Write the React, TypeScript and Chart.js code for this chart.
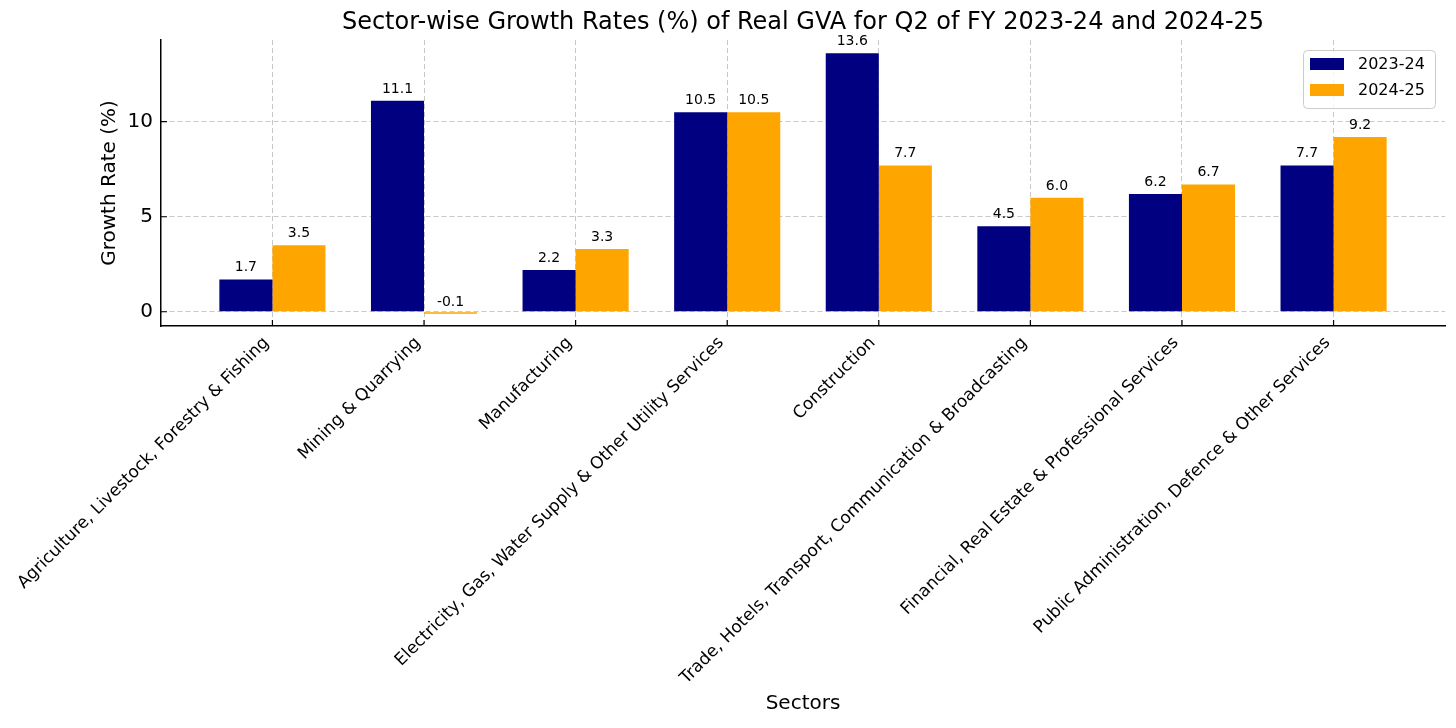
import React, { useEffect, useRef } from 'react';
import { Chart, registerables } from 'chart.js';

Chart.register(...registerables);

const categories = [
  'Agriculture, Livestock, Forestry & Fishing',
  'Mining & Quarrying',
  'Manufacturing',
  'Electricity, Gas, Water Supply & Other Utility Services',
  'Construction',
  'Trade, Hotels, Transport, Communication & Broadcasting',
  'Financial, Real Estate & Professional Services',
  'Public Administration, Defence & Other Services',
];
const series2023 = [1.7, 11.1, 2.2, 10.5, 13.6, 4.5, 6.2, 7.7];
const series2024 = [3.5, -0.1, 3.3, 10.5, 7.7, 6.0, 6.7, 9.2];
const seriesLabels = ['2023-24', '2024-25'];
const seriesColors = ['#000080', '#FFA500'];
const yTickValues = [0, 5, 10];
const titleText = 'Sector-wise Growth Rates (%) of Real GVA for Q2 of FY 2023-24 and 2024-25';
const xAxisTitle = 'Sectors';
const yAxisTitle = 'Growth Rate (%)';

const FONT = "'DejaVu Sans', sans-serif";

const barLabelPlugin = {
  id: 'barLabels',
  afterDatasetsDraw(chart: any) {
    const ctx = chart.ctx;
    const yScale = chart.scales.y;
    ctx.save();
    ctx.font = `14px ${FONT}`;
    ctx.fillStyle = '#000';
    ctx.textAlign = 'center';
    ctx.textBaseline = 'alphabetic';
    chart.data.datasets.forEach((ds: any, di: number) => {
      const meta = chart.getDatasetMeta(di);
      meta.data.forEach((el: any, i: number) => {
        const v = ds.data[i].y;
        const y = yScale.getPixelForValue(v) - 8;
        ctx.fillText(v.toFixed(1), el.x, y);
      });
    });
    ctx.restore();
  },
};

const innerTicksPlugin = {
  id: 'innerTicks',
  afterDraw(chart: any) {
    const ctx = chart.ctx;
    const { left, bottom } = chart.chartArea;
    ctx.save();
    ctx.strokeStyle = '#000';
    ctx.lineWidth = 1.2;
    ctx.beginPath();
    chart.scales.x.ticks.forEach((t: any) => {
      const px = chart.scales.x.getPixelForValue(t.value);
      ctx.moveTo(px, bottom);
      ctx.lineTo(px, bottom - 6);
    });
    chart.scales.y.ticks.forEach((t: any) => {
      const py = chart.scales.y.getPixelForValue(t.value);
      ctx.moveTo(left, py);
      ctx.lineTo(left + 6, py);
    });
    ctx.stroke();
    ctx.restore();
  },
};

const legendBoxPlugin = {
  id: 'legendBox',
  afterDraw(chart: any) {
    const ctx = chart.ctx;
    const { right, top } = chart.chartArea;
    const w = 132;
    const h = 58;
    const x0 = right - 10 - w;
    const y0 = top + 10;
    ctx.save();
    ctx.fillStyle = 'rgba(255,255,255,0.8)';
    ctx.strokeStyle = '#cccccc';
    ctx.lineWidth = 1;
    ctx.beginPath();
    ctx.roundRect(x0 + 0.5, y0 + 0.5, w, h, 4);
    ctx.fill();
    ctx.stroke();
    ctx.font = `16px ${FONT}`;
    ctx.textAlign = 'left';
    ctx.textBaseline = 'middle';
    chart.data.datasets.forEach((ds: any, i: number) => {
      const cy = y0 + 14 + i * 26;
      ctx.fillStyle = ds.backgroundColor;
      ctx.fillRect(x0 + 7, cy - 6, 34, 12);
      ctx.fillStyle = '#000';
      ctx.fillText(ds.label, x0 + 55, cy + 1);
    });
    ctx.restore();
  },
};

export default function App() {
  const canvasRef = useRef<HTMLCanvasElement | null>(null);

  useEffect(() => {
    if (!canvasRef.current) return;
    Chart.defaults.font.family = FONT;
    Chart.defaults.color = '#000';
    const seriesValues = [series2023, series2024];
    const chart = new Chart(canvasRef.current, {
      type: 'bar',
      data: {
        datasets: seriesValues.map((vals, si) => ({
          label: seriesLabels[si],
          data: vals.map((v, i) => ({ x: i, y: v })),
          backgroundColor: seriesColors[si],
          borderWidth: 0,
          categoryPercentage: 0.7,
          barPercentage: 1.0,
        })),
      },
      options: {
        responsive: false,
        animation: false,
        layout: { padding: { left: 88, right: 11, top: 0, bottom: 0 } },
        plugins: {
          legend: { display: false },
          tooltip: { enabled: false },
          title: {
            display: true,
            text: titleText,
            fullSize: false,
            color: '#000',
            font: { size: 24, weight: 'normal', family: FONT },
            padding: { top: 8, bottom: 3.2 },
          },
        },
        scales: {
          x: {
            type: 'linear',
            min: -0.735,
            max: 7.735,
            offset: false,
            afterBuildTicks: (scale: any) => {
              scale.ticks = categories.map((_, i) => ({ value: i }));
            },
            afterFit: (scale: any) => {
              scale.height = 402;
              scale.paddingLeft = 0;
              scale.paddingRight = 0;
            },
            grid: {
              offset: false,
              display: true,
              color: '#c8c8c8',
              lineWidth: 1,
              drawTicks: false,
            },
            border: { display: true, color: '#000', width: 1.5, dash: [5, 3] },
            ticks: {
              autoSkip: false,
              minRotation: 45,
              maxRotation: 45,
              padding: 7,
              labelOffset: -6,
              color: '#000',
              font: { size: 17, family: FONT },
              callback: (v: any) => categories[v] ?? '',
            },
            title: {
              display: true,
              text: xAxisTitle,
              color: '#000',
              font: { size: 20, family: FONT },
              padding: { top: 4, bottom: 12 },
            },
          },
          y: {
            type: 'linear',
            min: -0.75,
            max: 14.3,
            afterBuildTicks: (scale: any) => {
              scale.ticks = yTickValues.map((v) => ({ value: v }));
            },
            afterFit: (scale: any) => {
              scale.width = 73;
              scale.paddingTop = 0;
              scale.paddingBottom = 0;
            },
            grid: {
              display: true,
              color: '#c8c8c8',
              lineWidth: 1,
              drawTicks: false,
            },
            border: { display: true, color: '#000', width: 1.5, dash: [5, 3] },
            ticks: {
              padding: 8,
              color: '#000',
              font: { size: 20, family: FONT },
              callback: (v: any) => String(v),
            },
            title: {
              display: true,
              text: yAxisTitle,
              color: '#000',
              font: { size: 20, family: FONT },
              padding: { top: 10, bottom: 0 },
            },
          },
        },
      } as any,
      plugins: [barLabelPlugin, innerTicksPlugin, legendBoxPlugin],
    });
    return () => chart.destroy();
  }, []);

  return (
    <div style={{ position: 'fixed', left: 0, top: 0, width: 1456, height: 728, background: '#fff' }}>
      <canvas ref={canvasRef} width={1456} height={728} style={{ width: 1456, height: 728 }} />
    </div>
  );
}
